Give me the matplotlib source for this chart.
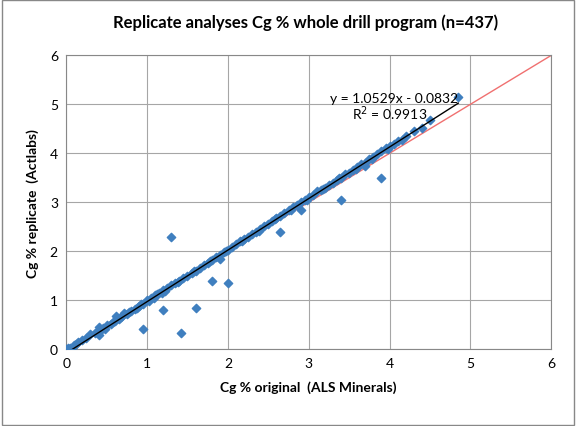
import matplotlib
matplotlib.use("Agg")
import matplotlib.pyplot as plt
import numpy as np

plt.rcParams['font.family'] = ['Lato', 'DejaVu Sans']

# original vs replicate Cg % (approximate)
original = [0.0, 0.02, 0.05, 0.08, 0.1, 0.12, 0.15, 0.2, 0.25, 0.3, 0.35, 0.4, 0.42, 0.45, 0.5,
            0.55, 0.6, 0.62, 0.65, 0.7, 0.72, 0.75, 0.8, 0.85, 0.9, 0.92, 0.95, 1.0, 1.02, 1.05,
            1.1, 1.12, 1.15, 1.2, 1.22, 1.25, 1.3, 1.35, 1.4, 1.45, 1.5, 1.55, 1.6, 1.65, 1.7,
            1.75, 1.8, 1.85, 1.9, 1.95, 2.0, 2.05, 2.1, 2.15, 2.2, 2.25, 2.3, 2.35, 2.4, 2.45,
            2.5, 2.55, 2.6, 2.65, 2.7, 2.75, 2.8, 2.85, 2.9, 2.95, 3.0, 3.05, 3.1, 3.15, 3.2,
            3.25, 3.3, 3.35, 3.4, 3.45, 3.5, 3.55, 3.6, 3.65, 3.7, 3.75, 3.8, 3.85, 3.9, 3.95,
            4.0, 4.05, 4.1, 4.15, 4.2, 4.3, 4.4, 4.5, 4.85,
            0.38, 0.48, 0.58, 0.68, 0.78, 0.88, 1.08, 1.18, 1.38, 1.58, 1.78, 1.98, 2.18, 2.38,
            2.58, 2.78, 2.98, 3.18, 3.38, 3.58, 3.78, 3.98,
            1.3, 1.42, 0.95, 1.6, 2.0, 1.8, 3.9, 3.4, 2.65, 1.2, 3.7, 0.4, 2.9, 1.9]
replicate = [0.0, 0.03, 0.02, 0.05, 0.08, 0.1, 0.14, 0.18, 0.22, 0.3, 0.33, 0.45, 0.38, 0.44, 0.5,
             0.52, 0.58, 0.68, 0.62, 0.7, 0.74, 0.72, 0.78, 0.82, 0.88, 0.92, 0.93, 1.0, 0.98, 1.04,
             1.1, 1.12, 1.14, 1.2, 1.18, 1.25, 1.3, 1.35, 1.4, 1.46, 1.5, 1.55, 1.6, 1.65, 1.72,
             1.76, 1.82, 1.88, 1.92, 1.98, 2.03, 2.08, 2.15, 2.2, 2.25, 2.3, 2.35, 2.4, 2.45, 2.52,
             2.56, 2.62, 2.68, 2.72, 2.78, 2.85, 2.9, 2.95, 3.0, 3.05, 3.1, 3.15, 3.22, 3.25, 3.3,
             3.35, 3.4, 3.45, 3.5, 3.58, 3.6, 3.65, 3.72, 3.78, 3.8, 3.88, 3.92, 3.98, 4.05, 4.1,
             4.15, 4.18, 4.25, 4.28, 4.35, 4.45, 4.52, 4.68, 5.15,
             0.35, 0.42, 0.55, 0.65, 0.75, 0.85, 1.05, 1.15, 1.38, 1.6, 1.8, 2.0, 2.2, 2.42,
             2.65, 2.85, 3.05, 3.28, 3.5, 3.68, 3.88, 4.08,
             2.3, 0.32, 0.42, 0.85, 1.35, 1.4, 3.5, 3.05, 2.4, 0.8, 3.75, 0.28, 2.85, 1.85]

slope, intercept = 1.0529, -0.0832

fig = plt.figure(figsize=(5.76, 4.27), dpi=100)
ax = fig.add_axes([0.115, 0.18, 0.842, 0.688])
ax.grid(True, color='#a6a6a6', linewidth=0.8)
ax.set_axisbelow(True)
ax.plot([0, 6], [0, 6], color='#f07070', linewidth=1, zorder=2)
ax.scatter(original, replicate, marker='D', s=18, color='#3f7fbf', zorder=3)
xs = np.array([0, max(original)])
ax.plot(xs, slope * xs + intercept, color='black', linewidth=1, zorder=4)
ax.set_xlim(0, 6)
ax.set_ylim(0, 6)
ax.set_xticks(range(7))
ax.set_yticks(range(7))
ax.tick_params(labelsize=10, length=0, pad=6)
for s in ax.spines.values():
    s.set_color('#888888')
ax.set_xlabel('Cg % original  (ALS Minerals)', fontsize=10, fontweight='bold', labelpad=8)
ax.set_ylabel('Cg % replicate  (Actlabs)', fontsize=10, fontweight='bold', labelpad=8)
ax.text(4.05, 5.05, 'y = 1.0529x - 0.0832', ha='center', fontsize=10)
ax.text(4.0, 4.7, 'R$^2$ = 0.9913', ha='center', fontsize=10)
fig.text(0.53, 0.935, 'Replicate analyses Cg % whole drill program (n=437)',
         ha='center', fontsize=12, fontweight='bold')
fig.patches.append(plt.Rectangle((0.003, 0.003), 0.994, 0.994, transform=fig.transFigure,
                                 fill=False, edgecolor='#888888', linewidth=1))
fig.savefig('out.png', dpi=100)
